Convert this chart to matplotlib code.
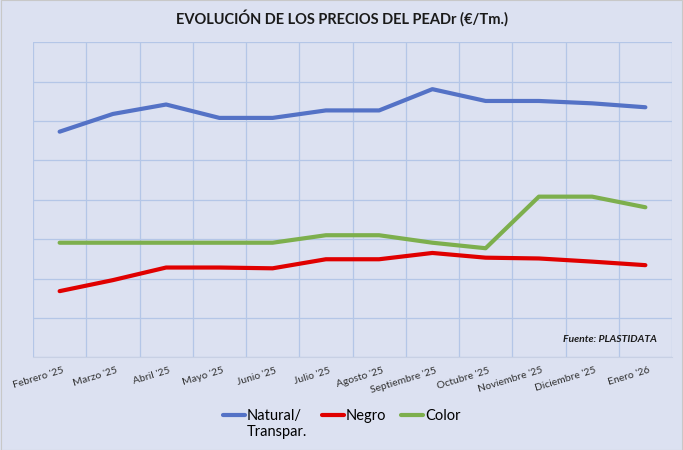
import matplotlib
matplotlib.use("Agg")
import matplotlib.pyplot as plt
from matplotlib.legend_handler import HandlerLine2D

months = ["Febrero '25", "Marzo '25", "Abril '25", "Mayo '25", "Junio '25", "Julio '25",
          "Agosto '25", "Septiembre '25", "Octubre '25", "Noviembre '25", "Diciembre '25", "Enero '26"]
natural = [573, 618, 642, 608, 608, 627, 627, 681, 651, 651, 645, 635]
negro = [168, 196, 228, 228, 226, 249, 249, 265, 253, 251, 243, 234]
color = [291, 291, 291, 291, 291, 310, 310, 291, 277, 408, 408, 381]

BG = "#DCE1F1"
GRID = "#B4C6E7"


class FirstLineHandler(HandlerLine2D):
    """Put the legend line beside the first line of a two-line label."""

    def __init__(self, shift, **kw):
        super().__init__(**kw)
        self.shift = shift

    def create_artists(self, legend, orig_handle, xdescent, ydescent, width, height,
                       fontsize, trans):
        artists = super().create_artists(legend, orig_handle, xdescent, ydescent,
                                         width, height, fontsize, trans)
        for a in artists:
            a.set_ydata([y + self.shift for y in a.get_ydata()])
        return artists


plt.rcParams["font.family"] = ["Lato", "DejaVu Sans"]

fig = plt.figure(figsize=(6.83, 4.5), dpi=100, facecolor=BG)
ax = fig.add_axes([33 / 683, 1 - 357.3 / 450, 639 / 683, 315 / 450])
ax.set_facecolor(BG)

x = list(range(len(months)))
# labels are all two lines so the legend rows line up like the Excel legend
l1, = ax.plot(x, natural, color="#5472C6", lw=3, solid_capstyle="round", label="Natural/\nTranspar.")
l2, = ax.plot(x, negro, color="#E00000", lw=3, solid_capstyle="round", label="Negro\n ")
l3, = ax.plot(x, color, color="#7DAF4D", lw=3, solid_capstyle="round", label="Color\n ")

ax.set_xlim(-0.5, len(months) - 0.5)
ax.set_ylim(0, 800)
ax.set_yticks(range(0, 801, 100))
ax.set_yticklabels([])
ax.set_xticks([i - 0.5 for i in range(len(months) + 1)])
ax.set_xticklabels([])
ax.tick_params(length=0)
ax.grid(True, color=GRID, lw=0.9)
ax.set_axisbelow(True)
for side in ["top", "right", "left"]:
    ax.spines[side].set_visible(False)
ax.spines["bottom"].set_color("#C8D0E4")

for i, m in enumerate(months):
    ax.text(i + 0.05, -22, m, rotation=17, rotation_mode="anchor", ha="right", va="top",
            fontsize=7.5, color="#303030")

ax.text(0.976, 0.058, "Fuente: PLASTIDATA", transform=ax.transAxes, ha="right", va="center",
        fontsize=7.5, fontweight="bold", fontstyle="italic", color="#1a1a1a")

fig.text(0.5, 0.96, "EVOLUCIÓN DE LOS PRECIOS DEL PEADr (€/Tm.)", ha="center", va="center",
         fontsize=10.5, fontweight="bold", color="#1a1a1a")

shifted = FirstLineHandler(shift=6.8)
leg = fig.legend(handles=[l1, l2, l3], loc="upper center", bbox_to_anchor=(0.5, 0.104),
                 ncol=3, frameon=False, fontsize=10.5, handlelength=1.5, handletextpad=0.15,
                 columnspacing=1.0, borderaxespad=0,
                 handler_map={l1: shifted, l2: shifted, l3: shifted})

fig.patches.append(plt.Rectangle((0.001, 0.001), 0.998, 0.998, transform=fig.transFigure,
                                 fill=False, edgecolor="#C8C8C8", lw=0.8))

fig.savefig("out.png", dpi=100, facecolor=BG)
